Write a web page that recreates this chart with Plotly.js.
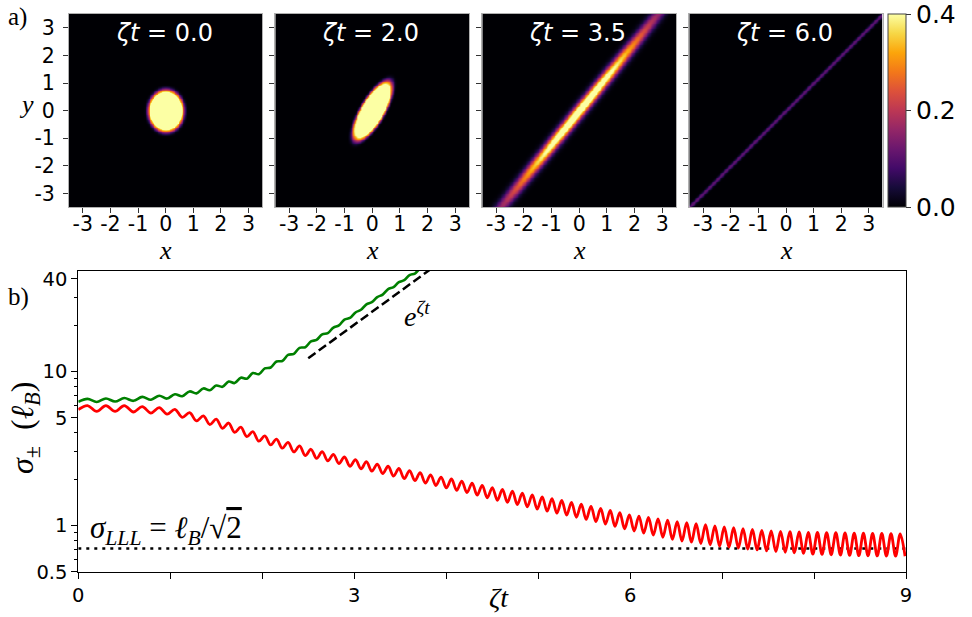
<!DOCTYPE html>
<html><head><meta charset="utf-8">
<script src="https://cdn.plot.ly/plotly-3.0.1.min.js"></script>
<style>html,body{margin:0;padding:0;background:#fff}#chart{width:972px;height:617px}</style>
</head><body><div id="chart"></div>
<script>
// ---------- top row: density snapshots (shape parameters) ----------
const panelLabels = ['<i>ζt</i> = 0.0', '<i>ζt</i> = 2.0', '<i>ζt</i> = 3.5', '<i>ζt</i> = 6.0'];
const panelPeak = [0.6, 0.6, 0.5, 0.11];
const panelSemiMajor = [0.7, 1.12, 3.0, 60];
const panelSemiMinor = [0.59, 0.39, 0.14, 0.045];
const panelAngleDeg = [90, 60, 51, 45];
const panelEdgePower = [4, 4, 1, 1];
const heatTicks = [-3, -2, -1, 0, 1, 2, 3];
const heatTickText = ['-3', '-2', '-1', '0', '1', '2', '3'];
const colorbarTicks = [0, 0.2, 0.4];
const colorbarTickText = ['0.0', '0.2', '0.4'];

// ---------- bottom panel: sigma_+ (green), sigma_- (red), extrema ----------
const redT = [0,
 0.10,0.20, 0.30,0.40, 0.50,0.60, 0.695,0.79, 0.88,0.965, 1.05,1.13, 1.21,1.285, 1.36,1.43,
 1.50,1.568, 1.635,1.70, 1.767,1.833, 1.898,1.963, 2.028,2.092, 2.155,2.218, 2.281,2.344,
 2.406,2.468, 2.53,2.591, 2.652,2.713, 2.774,2.834, 2.894,2.954, 3.014,3.074, 3.133,3.192,
 3.251,3.31, 3.369,3.428, 3.486,3.544, 3.602,3.66, 3.717,3.774, 3.831,3.888, 3.945,4.002,
 4.058,4.114, 4.17,4.226, 4.282,4.337, 4.392,4.447, 4.502,4.557, 4.612,4.666, 4.72,4.774,
 4.828,4.882, 4.936,4.99, 5.044,5.098, 5.151,5.204, 5.257,5.31, 5.363,5.416, 5.469,5.522,
 5.575,5.628, 5.68,5.732, 5.784,5.836, 5.888,5.94, 5.992,6.044, 6.096,6.148, 6.20,6.252,
 6.304,6.356, 6.408,6.46, 6.512,6.564, 6.616,6.667, 6.718,6.769, 6.82,6.871, 6.922,6.973,
 7.024,7.075, 7.126,7.177, 7.228,7.279, 7.33,7.381, 7.432,7.483, 7.534,7.585, 7.636,7.687,
 7.737,7.787, 7.837,7.887, 7.937,7.987, 8.037,8.087, 8.137,8.187, 8.237,8.287, 8.337,8.387,
 8.437,8.487, 8.537,8.587, 8.637,8.687, 8.737,8.787, 8.837,8.887, 8.937,8.99];
const redV = [5.65,
 6.0,5.5, 6.0,5.5, 6.0,5.45, 5.90,5.36, 5.81,5.27, 5.67,5.03, 5.39,4.77, 5.14,4.52,
 4.9,4.27, 4.62,4.02, 4.34,3.77, 4.06,3.52, 3.81,3.33, 3.63,3.17, 3.46,3.0,
 3.28,2.84, 3.12,2.72, 3.01,2.62, 2.89,2.52, 2.78,2.42, 2.67,2.33, 2.59,2.25,
 2.50,2.17, 2.42,2.09, 2.34,2.01, 2.27,1.95, 2.20,1.88, 2.13,1.815, 2.06,1.75,
 2.0,1.69, 1.94,1.63, 1.88,1.57, 1.82,1.51, 1.76,1.456, 1.713,1.41, 1.67,1.365,
 1.62,1.32, 1.577,1.274, 1.533,1.237, 1.493,1.20, 1.452,1.165, 1.412,1.129, 1.372,1.093,
 1.33,1.056, 1.29,1.02, 1.25,0.986, 1.21,0.95, 1.17,0.919, 1.149,0.89, 1.126,0.864,
 1.103,0.837, 1.08,0.81, 1.058,0.791, 1.041,0.777, 1.025,0.762, 1.009,0.748, 0.992,0.734,
 0.977,0.7225, 0.965,0.712, 0.953,0.702, 0.94,0.692, 0.928,0.682, 0.919,0.675, 0.915,0.669,
 0.911,0.663, 0.907,0.657, 0.901,0.651, 0.899,0.647, 0.897,0.644, 0.895,0.641, 0.893,0.638,
 0.891,0.635, 0.889,0.634, 0.887,0.633, 0.885,0.632, 0.883,0.631, 0.881,0.630];
const greenT = [0,
 0.10,0.20, 0.30,0.40, 0.50,0.60, 0.695,0.79, 0.88,0.965, 1.05,1.13, 1.21,1.285, 1.36,1.43,
 1.50,1.568, 1.635,1.70, 1.767,1.833, 1.898,1.963, 2.028,2.092, 2.155,2.218, 2.281,2.344,
 2.406,2.468, 2.53,2.591, 2.652,2.713, 2.774,2.834, 2.894,2.954, 3.014,3.074, 3.133,3.192,
 3.251,3.31, 3.369,3.428, 3.486,3.544, 3.602,3.66, 3.717,3.774];
const greenV = [6.35,
 6.63,6.33, 6.67,6.37, 6.71,6.44, 6.83,6.55, 6.95,6.66, 7.11,6.90, 7.41,7.20, 7.75,7.54,
 8.10,7.94, 8.60,8.40, 9.10,8.97, 9.75,9.58, 10.45,10.6, 11.59,11.68, 12.8,12.99,
 14.23,14.35, 15.65,16.03, 17.39,17.71, 19.26,19.88, 21.70,22.24, 24.15,25.12, 27.28,28.15,
 30.39,31.54, 34.22,35.27, 38.0,39.1, 42.17,43.2, 46.4,47.3];
const expT = [2.5, 3.85];
const expV = [12.18, 46.99];
const lllT = [0, 9];
const lllV = [0.707, 0.707];
const xTickVals = [0, 3, 6, 9];
const xTickText = ['0', '3', '6', '9'];
const xMinorVals = [1, 2, 4, 5, 7, 8];
const yTickVals = [0.5, 1, 5, 10, 40];
const yTickText = ['0.5', '1', '5', '10', '40'];
const yMinorVals = [0.6, 0.7, 0.8, 0.9, 2, 3, 4, 6, 7, 8, 9, 20, 30];

// ---------- build ----------
const W = 972, H = 617;
const px = v => v / W, py = v => 1 - v / H;
const inferno = [[0.0,'#000004'],[0.1,'#160b39'],[0.2,'#420a68'],[0.3,'#6a176e'],[0.4,'#932667'],
  [0.5,'#bc3754'],[0.6,'#dd513a'],[0.7,'#f37819'],[0.8,'#fca50a'],[0.9,'#f6d746'],[1.0,'#fcffa4']];

const gridN = 241;
const grid = Array.from({length: gridN}, (_, i) => -3.5 + 7 * i / (gridN - 1));
function densityGrid(k) {
  const th = panelAngleDeg[k] * Math.PI / 180, c = Math.cos(th), s = Math.sin(th);
  const a = panelSemiMajor[k], b = panelSemiMinor[k], n = panelEdgePower[k], A = panelPeak[k];
  return grid.map(y => grid.map(x => {
    const u = x * c + y * s, v = -x * s + y * c;
    const r2 = (u / a) * (u / a) + (v / b) * (v / b);
    return A * Math.exp(-0.5 * Math.pow(r2, n));
  }));
}

const panelX = [[69, 262.3], [275.3, 469], [482.3, 676], [689.3, 882.7]];
const panelY = [14, 207.3];
const traces = [];
const layout = {
  width: W, height: H, margin: {l: 0, r: 0, t: 0, b: 0, autoexpand: false},
  paper_bgcolor: '#fff', plot_bgcolor: '#fff', showlegend: false,
  font: {family: 'DejaVu Sans', color: '#000'},
  coloraxis: {
    cmin: 0, cmax: 0.4, colorscale: inferno,
    colorbar: {
      x: px(888.3), xanchor: 'left', xref: 'paper', xpad: 0, ypad: 0,
      y: py(14), yanchor: 'top', len: (207.3 - 14) / H, lenmode: 'fraction',
      thickness: 17.7, thicknessmode: 'pixels',
      outlinewidth: 1, outlinecolor: '#444',
      tickmode: 'array', tickvals: colorbarTicks, ticktext: colorbarTickText,
      ticks: 'outside', ticklen: 5, tickcolor: '#333', ticklabeloverflow: 'allow',
      tickfont: {family: 'DejaVu Sans', size: 25, color: '#000'}
    }
  },
  annotations: []
};

const serif = 'Liberation Serif';
for (let k = 0; k < 4; k++) {
  const sfx = k === 0 ? '' : String(k + 1);
  traces.push({
    type: 'heatmap', x: grid, y: grid, z: densityGrid(k), coloraxis: 'coloraxis',
    zsmooth: 'best', hoverinfo: 'skip', xaxis: 'x' + sfx, yaxis: 'y' + sfx
  });
  const common = {
    range: [-3.5, 3.5], tickmode: 'array', tickvals: heatTicks, ticktext: heatTickText,
    ticks: 'outside', ticklen: 5, tickcolor: '#333', tickwidth: 1,
    showline: true, linecolor: '#b0b0b0', linewidth: 1, mirror: true,
    showgrid: false, zeroline: false, ticklabeloverflow: 'allow',
    tickfont: {family: 'DejaVu Sans', size: 20.5, color: '#000'}
  };
  layout['xaxis' + sfx] = Object.assign({}, common, {
    domain: [px(panelX[k][0]), px(panelX[k][1])], anchor: 'y' + sfx, ticklabelstandoff: -7
  });
  layout['yaxis' + sfx] = Object.assign({}, common, {
    domain: [py(panelY[1]), py(panelY[0])], anchor: 'x' + sfx, showticklabels: k === 0,
    ticklabelstandoff: 4
  });
  const cx = (panelX[k][0] + panelX[k][1]) / 2;
  layout.annotations.push({
    text: panelLabels[k], x: px(cx - 1.5), y: py(33), xref: 'paper', yref: 'paper',
    xanchor: 'center', yanchor: 'middle', showarrow: false,
    font: {family: 'DejaVu Sans', size: 24, color: '#fff'}
  });
  layout.annotations.push({
    text: '<i>x</i>', x: px(cx), y: py(251), xref: 'paper', yref: 'paper',
    xanchor: 'center', yanchor: 'middle', showarrow: false,
    font: {family: serif, size: 26, color: '#000'}
  });
}

// bottom panel traces
traces.push({
  type: 'scatter', mode: 'lines', x: lllT, y: lllV, xaxis: 'x5', yaxis: 'y5',
  line: {color: '#000', width: 2.5, dash: '3px,5px'}, hoverinfo: 'skip'
});
traces.push({
  type: 'scatter', mode: 'lines', x: expT, y: expV, xaxis: 'x5', yaxis: 'y5',
  line: {color: '#000', width: 2.5, dash: '9px,4px'}, hoverinfo: 'skip'
});
const nR = Math.min(redT.length, redV.length), nG = Math.min(greenT.length, greenV.length);
traces.push({
  type: 'scatter', mode: 'lines', x: redT.slice(0, nR), y: redV.slice(0, nR), xaxis: 'x5', yaxis: 'y5',
  line: {color: '#ff0000', width: 2.8, shape: 'spline', smoothing: 1}, hoverinfo: 'skip'
});
traces.push({
  type: 'scatter', mode: 'lines', x: greenT.slice(0, nG), y: greenV.slice(0, nG), xaxis: 'x5', yaxis: 'y5',
  line: {color: '#008000', width: 2.6, shape: 'spline', smoothing: 1}, hoverinfo: 'skip'
});

layout.xaxis5 = {
  domain: [px(78.3), px(906)], anchor: 'y5', range: [0, 9],
  tickmode: 'array', tickvals: xTickVals, ticktext: xTickText,
  ticks: 'outside', ticklen: 6, tickcolor: '#000', tickwidth: 1,
  minor: {tickmode: 'array', tickvals: xMinorVals, ticks: 'outside', ticklen: 6, tickcolor: '#000', tickwidth: 1, showgrid: false},
  showline: true, linecolor: '#000', linewidth: 1, mirror: true,
  showgrid: false, zeroline: false,
  tickfont: {family: 'DejaVu Sans', size: 19.5, color: '#000'}
};
layout.yaxis5 = {
  domain: [py(571.7), py(270.7)], anchor: 'x5', type: 'log',
  range: [Math.log10(0.5), 1.654],
  tickmode: 'array', tickvals: yTickVals, ticktext: yTickText,
  ticks: 'outside', ticklen: 6, tickcolor: '#000', tickwidth: 1,
  minor: {tickmode: 'array', tickvals: yMinorVals, ticks: 'outside', ticklen: 3.5, tickcolor: '#000', tickwidth: 1, showgrid: false},
  showline: true, linecolor: '#000', linewidth: 1, mirror: true,
  showgrid: false, zeroline: false,
  tickfont: {family: 'DejaVu Sans', size: 19.5, color: '#000'}
};

const ann = (text, x, y, size, extra) => Object.assign({
  text, x: px(x), y: py(y), xref: 'paper', yref: 'paper', showarrow: false,
  xanchor: 'center', yanchor: 'middle', font: {family: serif, size, color: '#000'}
}, extra || {});
layout.annotations.push(ann('a)', 17.5, 17.5, 25));
layout.annotations.push(ann('b)', 18.5, 297, 25));
layout.annotations.push(ann('<i>y</i>', 26, 104, 26));
layout.annotations.push(ann('<i>ζt</i>', 499, 597, 28));
layout.annotations.push(ann('<i>σ</i><sub>±</sub>  (<i>ℓ</i><sub><i>B</i></sub>)', 24, 428, 32, {textangle: -90}));
layout.annotations.push(ann('<i>e</i><sup><i>ζt</i></sup>', 402, 314, 28, {xanchor: 'left'}));
layout.annotations.push(ann('<i>σ</i><sub><i>LLL</i></sub> = <i>ℓ</i><sub><i>B</i></sub>/√<span style="text-decoration:overline">2</span>', 88, 530, 31, {xanchor: 'left'}));

Plotly.newPlot('chart', traces, layout, {staticPlot: true, displayModeBar: false});
</script>
</body></html>
